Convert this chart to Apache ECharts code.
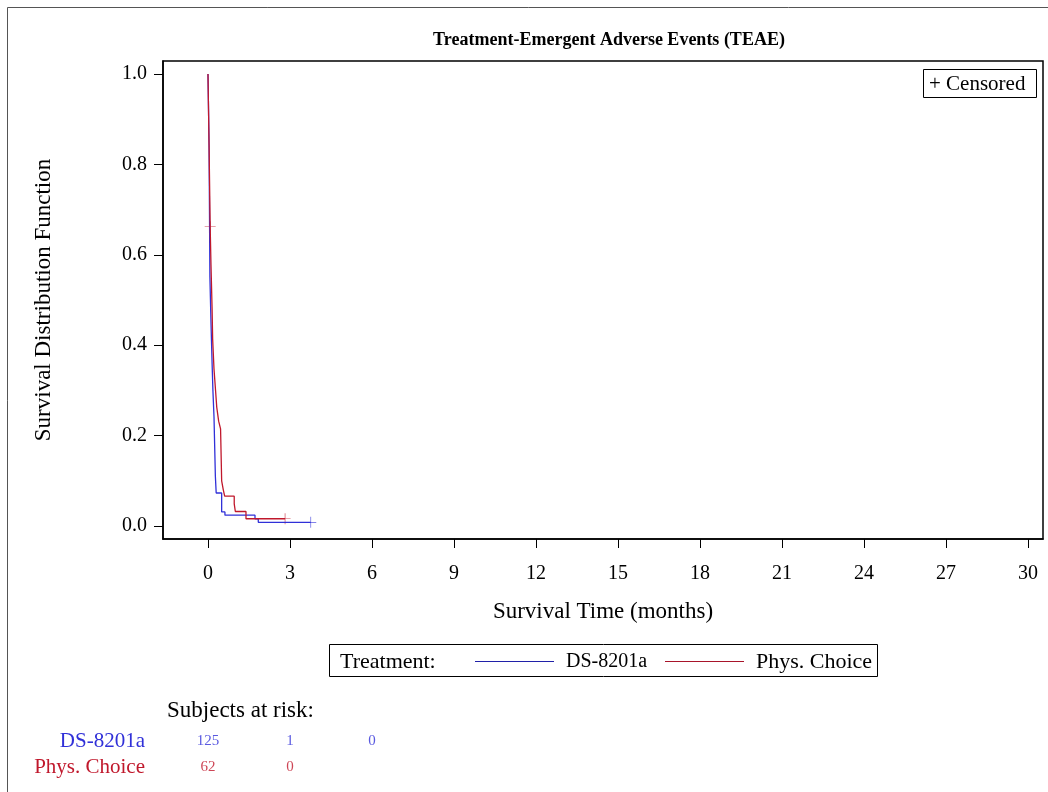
<!DOCTYPE html>
<html><head><meta charset="utf-8">
<script src="https://cdn.jsdelivr.net/npm/echarts@6/dist/echarts.min.js"></script>
<style>html,body{margin:0;padding:0;background:#fff}#c{width:1048px;height:792px}</style>
</head><body><div id="c"></div>
<script>
// ---- Data ----
const groups = ['DS-8201a', 'Phys. Choice'];
const dsTimes = [0, 0.04, 0.07, 0.11, 0.15, 0.18, 0.22, 0.27, 0.30, 0.50, 0.62, 1.72, 1.84, 3.76];
const dsSurv  = [1.0, 0.838, 0.551, 0.449, 0.36, 0.30, 0.241, 0.11, 0.073, 0.031, 0.024, 0.016, 0.008, 0.008];
const pcTimes = [0, 0.04, 0.08, 0.11, 0.15, 0.17, 0.22, 0.28, 0.32, 0.39, 0.46, 0.50, 0.56, 0.61, 0.96, 1.00, 1.39, 2.82];
const pcSurv  = [1.0, 0.838, 0.662, 0.577, 0.48, 0.414, 0.347, 0.297, 0.263, 0.232, 0.215, 0.10, 0.08, 0.066, 0.049, 0.032, 0.016, 0.016];
const dsCensT = [3.76];
const dsCensS = [0.008];
const pcCensT = [0.08, 2.82];
const pcCensS = [0.662, 0.016];
const riskTimes = [0, 3, 6];
const dsRisk = [125, 1, 0];
const pcRisk = [62, 0];
const xTicks = [0, 3, 6, 9, 12, 15, 18, 21, 24, 27, 30];
const yTicks = [0, 0.2, 0.4, 0.6, 0.8, 1.0];

// ---- Styles ----
const BLUE = '#3030d8', RED = '#c0182c';
const BLUE_LEG = '#2020a8', RED_LEG = '#a8142a';
const FONT = 'Liberation Serif';
const plus = 'path://M-0.6,-10 L0.6,-10 L0.6,-0.6 L10,-0.6 L10,0.6 L0.6,0.6 L0.6,10 L-0.6,10 L-0.6,0.6 L-10,0.6 L-10,-0.6 L-0.6,-0.6 Z';

const zip = (a, b) => a.map((v, i) => [v, b[i]]);

const chart = echarts.init(document.getElementById('c'), null, {renderer: 'canvas'});
chart.setOption({
  animation: false,
  backgroundColor: '#fff',
  textStyle: {fontFamily: FONT},
  title: {
    text: 'Treatment-Emergent Adverse Events (TEAE)',
    left: 604, top: 26, textAlign: 'center',
    textStyle: {fontFamily: FONT, fontSize: 18, fontWeight: 'bold', color: '#000'}
  },
  grid: [
    {left: 163, top: 61, width: 880, height: 478, show: true, borderColor: '#000', borderWidth: 1.5, backgroundColor: 'transparent'},
    {left: 163, top: 728, width: 880, height: 52}
  ],
  xAxis: [{
    type: 'value', gridIndex: 0, min: -1.646, max: 30.55,
    name: 'Survival Time (months)', nameLocation: 'middle', nameGap: 61,
    nameTextStyle: {fontFamily: FONT, fontSize: 23, color: '#000'},
    axisLine: {show: true, onZero: false, lineStyle: {color: '#000', width: 1.5}},
    axisTick: {show: true, length: 9, customValues: xTicks, lineStyle: {color: '#000'}},
    axisLabel: {customValues: xTicks, margin: 25, fontFamily: FONT, fontSize: 20, color: '#000',
      formatter: v => String(v)},
    splitLine: {show: false}
  }, {
    type: 'value', gridIndex: 1, min: -1.646, max: 30.55, show: false
  }],
  yAxis: [{
    type: 'value', gridIndex: 0, min: -0.0288, max: 1.0288,
    name: 'Survival Distribution Function', nameLocation: 'middle', nameGap: 108, nameRotate: 90,
    nameTextStyle: {fontFamily: FONT, fontSize: 23, color: '#000'},
    axisLine: {show: true, onZero: false, lineStyle: {color: '#000', width: 1.5}},
    axisTick: {show: true, length: 9, customValues: yTicks, lineStyle: {color: '#000'}},
    axisLabel: {customValues: yTicks, margin: 16, fontFamily: FONT, fontSize: 20, color: '#000',
      formatter: v => v.toFixed(1)},
    splitLine: {show: false}
  }, {
    type: 'category', gridIndex: 1, data: ['Phys. Choice', 'DS-8201a'],
    axisLine: {show: false}, axisTick: {show: false}, splitLine: {show: false},
    axisLabel: {interval: 0, hideOverlap: false, margin: 18, fontFamily: FONT, fontSize: 21,
      formatter: v => v === 'DS-8201a' ? '{b|' + v + '}' : '{r|' + v + '}',
      rich: {b: {color: BLUE, fontFamily: FONT, fontSize: 21}, r: {color: RED, fontFamily: FONT, fontSize: 21}}}
  }],
  series: [
    {type: 'line', name: groups[0], xAxisIndex: 0, yAxisIndex: 0, step: 'end', showSymbol: false,
      data: zip(dsTimes, dsSurv), lineStyle: {color: BLUE, width: 1.3}, itemStyle: {color: BLUE}},
    {type: 'line', name: groups[1], xAxisIndex: 0, yAxisIndex: 0, step: 'end', showSymbol: false,
      data: zip(pcTimes, pcSurv), lineStyle: {color: RED, width: 1.3}, itemStyle: {color: RED}},
    {type: 'scatter', xAxisIndex: 0, yAxisIndex: 0, symbol: plus, symbolSize: 11,
      data: zip(dsCensT, dsCensS), itemStyle: {color: BLUE}},
    {type: 'scatter', xAxisIndex: 0, yAxisIndex: 0, symbol: plus, symbolSize: 11,
      data: zip(pcCensT, pcCensS), itemStyle: {color: RED}},
    {type: 'scatter', xAxisIndex: 1, yAxisIndex: 1, symbolSize: 1,
      data: dsRisk.map((v, i) => [riskTimes[i], groups[0], v]),
      itemStyle: {color: 'rgba(0,0,0,0)'},
      label: {show: true, position: 'inside', formatter: p => String(p.value[2]),
        fontFamily: FONT, fontSize: 15, color: BLUE}},
    {type: 'scatter', xAxisIndex: 1, yAxisIndex: 1, symbolSize: 1,
      data: pcRisk.map((v, i) => [riskTimes[i], groups[1], v]),
      itemStyle: {color: 'rgba(0,0,0,0)'},
      label: {show: true, position: 'inside', formatter: p => String(p.value[2]),
        fontFamily: FONT, fontSize: 15, color: RED}}
  ],
  graphic: [
    {type: 'rect', shape: {x: 7.5, y: 7.5, width: 1050, height: 800}, style: {fill: 'none', stroke: '#555', lineWidth: 1}, silent: true},
    // Censored box
    {type: 'rect', shape: {x: 923.5, y: 69.5, width: 113, height: 28}, style: {fill: '#fff', stroke: '#000', lineWidth: 1}},
    {type: 'text', x: 929, y: 84, style: {text: '+ Censored', font: '21px "Liberation Serif"', fill: '#000', verticalAlign: 'middle'}},
    // Treatment legend
    {type: 'rect', shape: {x: 329.5, y: 644.5, width: 548, height: 32}, style: {fill: '#fff', stroke: '#000', lineWidth: 1}},
    {type: 'text', x: 340, y: 662, style: {text: 'Treatment:', font: '22px "Liberation Serif"', fill: '#000', verticalAlign: 'middle'}},
    {type: 'line', shape: {x1: 475, y1: 661.5, x2: 554, y2: 661.5}, style: {stroke: BLUE_LEG, lineWidth: 1}},
    {type: 'text', x: 566, y: 662, style: {text: groups[0], font: '20px "Liberation Serif"', fill: '#000', verticalAlign: 'middle'}},
    {type: 'line', shape: {x1: 665, y1: 661.5, x2: 744, y2: 661.5}, style: {stroke: RED_LEG, lineWidth: 1}},
    {type: 'text', x: 756, y: 662, style: {text: groups[1], font: '22px "Liberation Serif"', fill: '#000', verticalAlign: 'middle'}},
    {type: 'text', x: 167, y: 711, style: {text: 'Subjects at risk:', font: '23px "Liberation Serif"', fill: '#000', verticalAlign: 'middle'}}
  ]
});
</script></body></html>
